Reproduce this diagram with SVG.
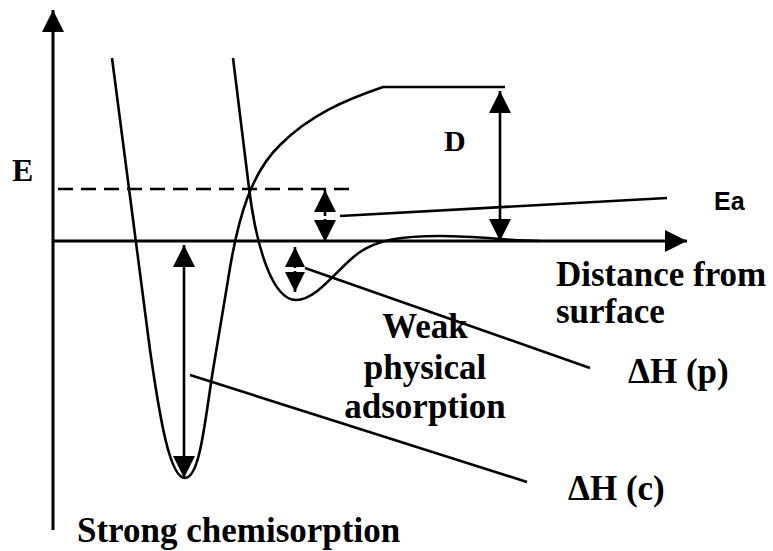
<svg xmlns="http://www.w3.org/2000/svg" width="773" height="551" viewBox="0 0 773 551">
<style>
.ln{stroke:#000;stroke-width:2.6;fill:none}
.ax{stroke:#000;stroke-width:3;fill:none}
.t{font-family:'Liberation Serif','Times New Roman',Times,serif;font-weight:700;fill:#000}
.s{font-family:'Liberation Sans',Arial,sans-serif;font-weight:700;fill:#000}
</style>
<defs>
<marker id="ah" markerUnits="userSpaceOnUse" markerWidth="22" markerHeight="22" viewBox="0 0 22 22" refX="22" refY="11" orient="auto-start-reverse">
<path d="M0,0 L22,11 L0,22 Z" fill="#000"/>
</marker>
<marker id="ahs" markerUnits="userSpaceOnUse" markerWidth="20" markerHeight="20" viewBox="0 0 20 20" refX="20" refY="10" orient="auto-start-reverse">
<path d="M0,0 L20,10 L0,20 Z" fill="#000"/>
</marker>
</defs>
<rect width="773" height="551" fill="#fff"/>
<g id="axes">
<line class="ax" x1="53" y1="530" x2="53" y2="10" marker-end="url(#ah)"/>
<line class="ax" x1="53" y1="241" x2="687" y2="241" marker-end="url(#ah)"/>
<text class="t" x="12" y="181" font-size="32">E</text>
<text class="t" x="556" y="286" font-size="35">Distance from</text>
<text class="t" x="556" y="323" font-size="35">surface</text>
</g>
<g id="dashed">
<line class="ln" x1="58" y1="189" x2="357" y2="189" stroke-dasharray="15,8"/>
</g>
<g id="chemisorption">
<path class="ln" d="M112,58 L150,350 C160,420 170,478 185,478 C200,478 205,420 213,370 L228,280 C238,215 252,172 280,145 C310,115 345,100 383,87 L505,87"/>
<text class="t" x="77" y="542" font-size="35">Strong chemisorption</text>
</g>
<g id="physisorption">
<path class="ln" d="M233,58 L249,188 C256,245 272,300 296,300 C318,300 340,265 360,252 C378,240 400,236 440,236 C480,236 510,241 540,241"/>
<text class="t" x="425" y="338" font-size="35" text-anchor="middle">Weak</text>
<text class="t" x="425" y="379" font-size="35" text-anchor="middle">physical</text>
<text class="t" x="425" y="418" font-size="35" text-anchor="middle">adsorption</text>
</g>
<g id="D">
<line class="ln" x1="500" y1="91" x2="500" y2="241" marker-start="url(#ah)" marker-end="url(#ah)"/>
<text class="t" x="444" y="151" font-size="30">D</text>
</g>
<g id="Ea">
<line class="ln" x1="325" y1="216" x2="325" y2="190" marker-end="url(#ah)"/>
<line class="ln" x1="325" y1="219" x2="325" y2="242" marker-end="url(#ah)"/>
<line class="ln" x1="340" y1="216" x2="667" y2="198"/>
<text class="s" x="714" y="210" font-size="25">Ea</text>
</g>
<g id="dHp">
<line class="ln" x1="295" y1="268" x2="295" y2="247" marker-end="url(#ahs)"/>
<line class="ln" x1="295" y1="271" x2="295" y2="292" marker-end="url(#ahs)"/>
<line class="ln" x1="305" y1="268" x2="590" y2="368"/>
<text class="t" x="628" y="383" font-size="35">ΔH (p)</text>
</g>
<g id="dHc">
<line class="ln" x1="184" y1="245" x2="184" y2="478" marker-start="url(#ah)" marker-end="url(#ah)"/>
<line class="ln" x1="190" y1="375" x2="527" y2="482"/>
<text class="t" x="568" y="500" font-size="35">ΔH (c)</text>
</g>
</svg>
